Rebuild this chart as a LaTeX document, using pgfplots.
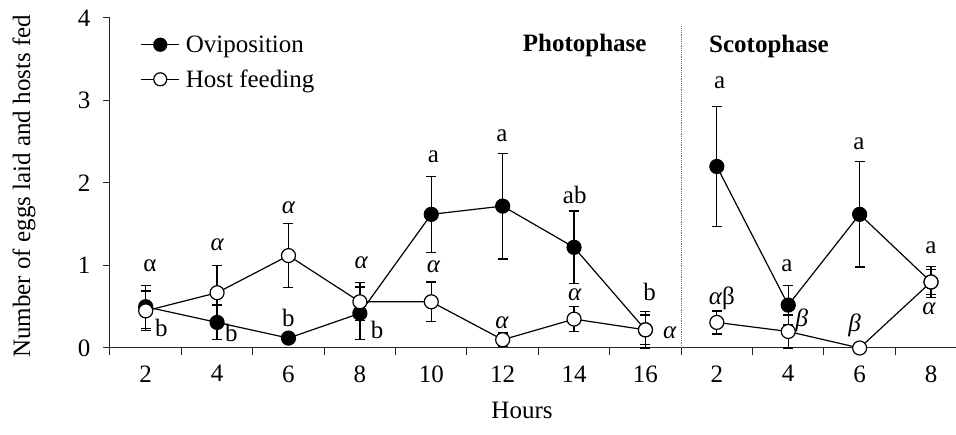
\documentclass[border=0pt]{standalone}
\usepackage{pgfplots}
\pgfplotsset{compat=1.18}
\usepackage{pgfplotstable}
\usepackage{fontspec}
\setmainfont{Liberation Serif}

% x = slot index (0-7 photophase, 8-11 scotophase), y = mean, e = standard error
\pgfplotstableread{
x y e
0 0.50 0.26
1 0.31 0.21
2 0.12 0.02
3 0.42 0.32
4 1.62 0.46
5 1.72 0.64
6 1.22 0.44
7 0.22 0.22
}\ovipLight
\pgfplotstableread{
x y e
8 2.20 0.73
9 0.52 0.24
10 1.62 0.64
11 0.80 0.15
}\ovipDark
\pgfplotstableread{
x y e
0 0.45 0.24
1 0.67 0.33
2 1.12 0.39
3 0.56 0.23
4 0.56 0.24
5 0.10 0.08
6 0.35 0.15
7 0.22 0.18
}\hostLight
\pgfplotstableread{
x y e
8 0.31 0.14
9 0.20 0.20
10 0.00 0.00
11 0.80 0.19
}\hostDark

\newcommand{\fs}{\fontsize{25}{29}\selectfont}

\begin{document}
\begin{tikzpicture}[font=\fs]
\path[use as bounding box] (-110pt,-87pt) rectangle (846pt,348pt);
\begin{axis}[
  anchor=south west, at={(0pt,0pt)},
  scale only axis, width=846pt, height=330pt,
  xmin=-0.5, xmax=11.35, ymin=0, ymax=4,
  axis x line=bottom, axis y line=left,
  axis line style={-, line width=1pt, color=black!85},
  clip=false,
  xtick={0,...,11},
  xticklabels={2,4,6,8,10,12,14,16,2,4,6,8},
  major x tick style={draw=none},
  minor xtick={-0.5,0.5,...,11.5},
  ytick={0,1,2,3,4},
  tick align=outside, tick pos=left,
  major tick length=7pt, minor tick length=7pt,
  tick style={line width=1pt, color=black!85},
  /pgf/number format/assume math mode=true,
  ticklabel style={font=\fs},
  xticklabel style={yshift=-7pt},
  yticklabel style={xshift=-9pt},
  xlabel={Hours},
  ylabel={Number of eggs laid and hosts fed},
  every axis x label/.style={at={(axis description cs:0.487,-0.188)}, anchor=center},
  every axis y label/.style={at={(axis description cs:-0.1017,0.49)}, rotate=90, anchor=center},
  label style={font=\fs},
  legend style={draw=none, fill=none, at={(axis description cs:0.036,0.953)}, anchor=north west,
    font=\fs, row sep=12pt, inner sep=0pt},
  legend cell align=left,
  legend image code/.code={\draw[mark repeat=2, mark phase=2, mark size=6.5pt] plot coordinates {(0pt,0pt) (19pt,0pt) (38pt,0pt)};},
  every axis plot/.append style={line width=1.2pt, color=black},
  error bars/y dir=both, error bars/y explicit,
  error bars/error bar style={line width=1.3pt, color=black},
  error bars/error mark options={rotate=90, mark size=5pt, line width=1.3pt, color=black},
]
% Oviposition
\addplot[mark=*, mark size=7pt, mark options={fill=black, draw=black}]
  table[x=x, y=y, y error=e] {\ovipLight};
\addlegendentry{\hspace{4pt}Oviposition}
\addplot[mark=*, mark size=7pt, mark options={fill=white, draw=black}]
  table[x=x, y=y, y error=e] {\hostLight};
\addlegendentry{\hspace{4pt}Host feeding}
\addplot[mark=*, mark size=7pt, mark options={fill=black, draw=black}, forget plot]
  table[x=x, y=y, y error=e] {\ovipDark};
\addplot[mark=*, mark size=7pt, mark options={fill=white, draw=black}, forget plot]
  table[x=x, y=y, y error=e] {\hostDark};

% boundary between light and dark phases
\addplot[densely dotted, line width=1pt, color=black!55, no marks, forget plot,
  error bars/y dir=none] coordinates {(7.5,0) (7.5,3.9)};

\node[font=\fs\bfseries] at (axis cs:6.15,3.67) {Photophase};
\node[font=\fs\bfseries] at (axis cs:8.73,3.65) {Scotophase};

% significance letters
\node at (axis cs:0.06,1.00) {α};
\node at (axis cs:0.22,0.24) {b};
\node at (axis cs:1.00,1.25) {\itshape α};
\node at (axis cs:1.20,0.18) {b};
\node at (axis cs:2.00,1.70) {\itshape α};
\node at (axis cs:2.00,0.36) {b};
\node at (axis cs:3.02,1.03) {\itshape α};
\node at (axis cs:3.24,0.22) {b};
\node at (axis cs:4.03,2.32) {a};
\node at (axis cs:4.03,0.98) {\itshape α};
\node at (axis cs:4.99,2.57) {a};
\node at (axis cs:4.99,0.31) {\itshape α};
\node at (axis cs:6.01,1.85) {ab};
\node at (axis cs:6.01,0.64) {\itshape α};
\node at (axis cs:7.06,0.68) {b};
\node at (axis cs:7.34,0.19) {\itshape α};
\node at (axis cs:8.04,3.21) {a};
\node at (axis cs:8.07,0.60) {{\itshape α}β};
\node at (axis cs:8.98,1.00) {a};
\node at (axis cs:9.19,0.34) {\itshape β};
\node at (axis cs:9.99,2.48) {a};
\node at (axis cs:9.93,0.28) {\itshape β};
\node at (axis cs:11.00,1.22) {a};
\node at (axis cs:10.97,0.48) {\itshape α};
\end{axis}
\end{tikzpicture}
\end{document}
